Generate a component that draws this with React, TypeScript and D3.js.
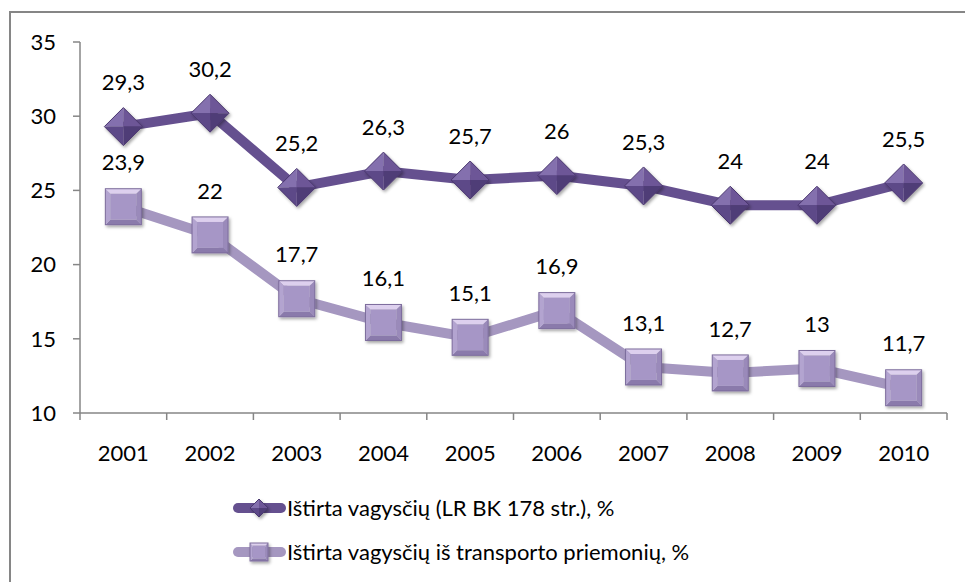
import React from "react";
import * as d3 from "d3";

const years = ["2001", "2002", "2003", "2004", "2005", "2006", "2007", "2008", "2009", "2010"];
const seriesA = [29.3, 30.2, 25.2, 26.3, 25.7, 26, 25.3, 24, 24, 25.5];
const seriesB = [23.9, 22, 17.7, 16.1, 15.1, 16.9, 13.1, 12.7, 13, 11.7];
const labelsA = ["29,3", "30,2", "25,2", "26,3", "25,7", "26", "25,3", "24", "24", "25,5"];
const labelsB = ["23,9", "22", "17,7", "16,1", "15,1", "16,9", "13,1", "12,7", "13", "11,7"];
const yTicks = [10, 15, 20, 25, 30, 35];
const legendNames = ["Ištirta vagysčių (LR BK 178 str.), %", "Ištirta vagysčių iš transporto priemonių, %"];

const FONT = "Lato, 'Open Sans', sans-serif";
const FS = 22;

function Diamond({ cx, cy, r }: { cx: number; cy: number; r: number }) {
  const t = [cx, cy - r], ri = [cx + r, cy], b = [cx, cy + r], l = [cx - r, cy];
  const c = [cx, cy];
  const p = (pts: number[][]) => pts.map((q) => q.join(",")).join(" ");
  return (
    <g filter="url(#shadow)">
      <polygon points={p([l, t, c])} fill="#8470ae" />
      <polygon points={p([t, ri, c])} fill="#6d5797" />
      <polygon points={p([ri, b, c])} fill="#503c77" />
      <polygon points={p([b, l, c])} fill="#5d4888" />
      <polygon points={p([t, ri, b, l])} fill="none" stroke="#4a376f" strokeWidth={1} />
    </g>
  );
}

function Square({ cx, cy, r }: { cx: number; cy: number; r: number }) {
  const x0 = cx - r, x1 = cx + r, y0 = cy - r, y1 = cy + r;
  const i = r * 0.72;
  const ix0 = cx - i, ix1 = cx + i, iy0 = cy - i, iy1 = cy + i;
  const p = (pts: number[][]) => pts.map((q) => q.join(",")).join(" ");
  return (
    <g filter="url(#shadow)">
      <polygon points={p([[x0, y0], [x1, y0], [ix1, iy0], [ix0, iy0]])} fill="#ddd0ee" />
      <polygon points={p([[x1, y0], [x1, y1], [ix1, iy1], [ix1, iy0]])} fill="#9a8aba" />
      <polygon points={p([[x1, y1], [x0, y1], [ix0, iy1], [ix1, iy1]])} fill="#8a7aab" />
      <polygon points={p([[x0, y1], [x0, y0], [ix0, iy0], [ix0, iy1]])} fill="#b3a4d0" />
      <rect x={ix0} y={iy0} width={ix1 - ix0} height={iy1 - iy0} fill="#a696c6" />
      <rect x={x0} y={y0} width={2 * r} height={2 * r} fill="none" stroke="#7c6c9c" strokeWidth={1} />
    </g>
  );
}

export default function App() {
  const W = 965, H = 582;
  const x = d3.scaleBand<string>().domain(years).range([80, 947]);
  const y = d3.scaleLinear().domain([10, 35]).range([413, 42]);
  const cxOf = (d: string) => (x(d) as number) + x.bandwidth() / 2;
  const line = d3.line<number>().x((_, i) => cxOf(years[i])).y((v) => y(v));

  return (
    <svg width={W} height={H} style={{ position: "absolute", left: 0, top: 0 }}>
      <defs>
        <filter id="shadow" x="-30%" y="-30%" width="170%" height="170%">
          <feDropShadow dx="1.5" dy="2" stdDeviation="1.5" floodColor="#000" floodOpacity="0.35" />
        </filter>
      </defs>
      <rect width={W} height={H} fill="#fff" />
      <rect x={10} y={12} width={W + 20} height={H + 20} fill="none" stroke="#868686" strokeWidth={2} />
      <line x1={80} x2={80} y1={y(35)} y2={y(10)} stroke="#868686" strokeWidth={1.5} />
      <line x1={80} x2={947} y1={y(10)} y2={y(10)} stroke="#868686" strokeWidth={1.5} />
      {yTicks.map((t) => (
        <g key={t}>
          <line x1={73} x2={80} y1={y(t)} y2={y(t)} stroke="#868686" strokeWidth={1.5} />
          <text x={56} y={y(t)} dy="0.35em" textAnchor="end" fontFamily={FONT} fontSize={FS} fill="#000">{t}</text>
        </g>
      ))}
      {years.map((yr) => (
        <line key={yr} x1={x(yr) as number} x2={x(yr) as number} y1={y(10)} y2={y(10) + 7} stroke="#868686" strokeWidth={1.5} />
      ))}
      <line x1={947} x2={947} y1={y(10)} y2={y(10) + 7} stroke="#868686" strokeWidth={1.5} />
      {years.map((yr) => (
        <text key={yr} x={cxOf(yr)} y={453} dy="0.35em" textAnchor="middle" fontFamily={FONT} fontSize={FS} fill="#000">{yr}</text>
      ))}
      <path d={line(seriesB) as string} fill="none" stroke="#a597c0" strokeWidth={10} strokeLinejoin="round" />
      <path d={line(seriesA) as string} fill="none" stroke="#65508f" strokeWidth={10} strokeLinejoin="round" />
      {seriesB.map((v, i) => <Square key={i} cx={cxOf(years[i])} cy={y(v)} r={18} />)}
      {seriesA.map((v, i) => <Diamond key={i} cx={cxOf(years[i])} cy={y(v)} r={19} />)}
      {seriesA.map((v, i) => (
        <text key={i} x={cxOf(years[i])} y={y(v) - 44} dy="0.35em" textAnchor="middle" fontFamily={FONT} fontSize={FS} fill="#000">{labelsA[i]}</text>
      ))}
      {seriesB.map((v, i) => (
        <text key={i} x={cxOf(years[i])} y={y(v) - 44} dy="0.35em" textAnchor="middle" fontFamily={FONT} fontSize={FS} fill="#000">{labelsB[i]}</text>
      ))}
      <line x1={238} x2={281} y1={508} y2={508} stroke="#65508f" strokeWidth={10} strokeLinecap="round" />
      <Diamond cx={259} cy={508} r={9} />
      <text x={287} y={508} dy="0.35em" fontFamily={FONT} fontSize={FS} fill="#000">{legendNames[0]}</text>
      <line x1={238} x2={281} y1={552} y2={552} stroke="#a597c0" strokeWidth={10} strokeLinecap="round" />
      <Square cx={259} cy={552} r={9} />
      <text x={287} y={552} dy="0.35em" fontFamily={FONT} fontSize={FS} fill="#000">{legendNames[1]}</text>
    </svg>
  );
}
